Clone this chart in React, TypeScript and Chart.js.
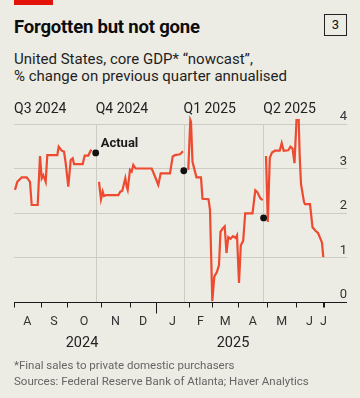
import React, { useEffect, useRef } from 'react';
import { Chart, registerables } from 'chart.js';

Chart.register(...registerables);

// x positions are in "timeline units" along the chart's date axis (Aug 1 2024 = 0)
const q3X = [1, 3.3, 7.7, 12.7, 16, 17.7, 23.7, 26, 27.7, 29.3, 31.7, 33.3, 43.3, 44.7, 47.7, 50, 51.7, 54.3, 56.7, 58.7, 60, 68.7, 70.7, 74.3, 76.7, 77.5];
const q3Y = [2.52, 2.7, 2.8, 2.8, 2.7, 2.18, 2.18, 3.28, 2.78, 2.85, 2.7, 3.3, 3.3, 3.49, 3.4, 3.38, 3.12, 2.59, 3.19, 3.23, 3.1, 3.1, 3.29, 3.29, 3.4, 3.42];

const q4X = [85, 87, 88.7, 90, 92, 104.3, 106.3, 108.3, 111.3, 112.7, 113.7, 116, 117.7, 119.3, 121.7, 137.7, 141, 144.3, 146.7, 156, 158.7, 161, 166, 169];
const q4Y = [2.7, 2.31, 2.48, 2.38, 2.4, 2.4, 2.48, 2.5, 2.78, 2.59, 2.52, 2.97, 2.93, 3.08, 3.0, 3.0, 2.82, 2.63, 2.89, 2.89, 3.27, 3.3, 3.32, 3.39];

const q1X = [174.3, 176.3, 177, 178.5, 181, 182.5, 187, 188.5, 194.5, 196, 198.3, 200.3, 203, 205, 206.5, 209, 210.7, 212.5, 214.3, 216.5, 219, 221.5, 223, 225, 226.8, 229.2, 231.2, 238.5, 241.3, 243.3, 246.3, 248.7];
const q1Y = [2.97, 4.09, 4.05, 3.15, 2.93, 2.8, 2.8, 2.32, 2.31, 2.07, 0.02, 0.57, 0.68, 0.83, 1.58, 1.66, 1.7, 1.1, 1.46, 1.42, 1.48, 1.44, 1.5, 0.43, 1.27, 1.38, 1.99, 1.99, 2.51, 2.47, 2.33, 2.29];

const q2X = [252, 253.8, 255.8, 258, 261, 265.7, 267.7, 269.7, 274.3, 276.5, 278.5, 280.5, 282.5, 284.7, 285.7, 287, 290, 291, 296, 298.5, 301.5, 304, 306.5, 308, 309.3];
const q2Y = [3.28, 1.8, 3.24, 3.36, 3.4, 3.4, 3.57, 3.4, 3.41, 3.49, 3.45, 3.12, 4.09, 4.09, 3.29, 2.65, 2.25, 2.2, 2.2, 1.68, 1.6, 1.55, 1.42, 1.33, 1.01];

const actualX = [81.7, 169.8, 249.6];
const actualY = [3.35, 2.95, 1.89];

const quarterLabels = ['Q3 2024', 'Q4 2024', 'Q1 2025', 'Q2 2025'];
const quarterPos = [0, 81.7, 169.5, 249.3];

const monthLabels = ['A', 'S', 'O', 'N', 'D', 'J', 'F', 'M', 'A', 'M', 'J', 'J'];
const monthTicks = [0, 26.7, 53.3, 86.7, 116, 142, 175, 198, 224.3, 253.3, 282, 308.7];
const lastDataTick = 310.3;
const yearBoundary = 142;
const yearLabels = ['2024', '2025'];
const yearLabelPos = [68, 219];

const yTicks = [0, 1, 2, 3, 4];
const X_MAX = 333;

const BG = '#ECEBE4';
const GRID = '#CDCCC4';
const RED = '#EE4A30';
const FONT = 'Roboto, "Liberation Sans", sans-serif';

function pts(xs: number[], ys: number[]) {
  return xs.map((x, i) => ({ x, y: ys[i] }));
}

const overlayPlugin = {
  id: 'overlay',
  beforeDatasetsDraw(chart: any) {
    const { ctx, chartArea, scales } = chart;
    const x = scales.x;
    const y = scales.y;
    ctx.save();
    ctx.strokeStyle = GRID;
    ctx.lineWidth = 1;
    quarterPos.forEach((q, i) => {
      if (i === 0) return;
      const px = Math.round(x.getPixelForValue(q)) + 0.5;
      ctx.beginPath();
      ctx.moveTo(px, y.getPixelForValue(4));
      ctx.lineTo(px, y.getPixelForValue(0));
      ctx.stroke();
    });
    // axis line
    const y0 = Math.round(y.getPixelForValue(0)) + 0.5;
    ctx.strokeStyle = '#1a1a1a';
    ctx.beginPath();
    ctx.moveTo(chartArea.left, y0);
    ctx.lineTo(chartArea.right, y0);
    ctx.stroke();
    // month ticks
    const allTicks = [...monthTicks, lastDataTick];
    allTicks.forEach((t) => {
      const px = Math.round(x.getPixelForValue(t)) + 0.5;
      const len = t === yearBoundary ? 11 : 5;
      ctx.beginPath();
      ctx.moveTo(px, y0);
      ctx.lineTo(px, y0 + len);
      ctx.stroke();
    });
    ctx.restore();
  },
  afterDraw(chart: any) {
    const { ctx, chartArea, scales } = chart;
    const x = scales.x;
    const y = scales.y;
    ctx.save();
    // y labels
    ctx.fillStyle = '#333';
    ctx.font = `13px ${FONT}`;
    ctx.textAlign = 'right';
    ctx.textBaseline = 'alphabetic';
    yTicks.forEach((v) => {
      ctx.fillText(String(v), chartArea.right, y.getPixelForValue(v) - 4);
    });
    // quarter labels
    ctx.textAlign = 'left';
    ctx.font = `14px ${FONT}`;
    ctx.fillStyle = '#222';
    quarterLabels.forEach((lab, i) => {
      ctx.fillText(lab, x.getPixelForValue(quarterPos[i]), y.getPixelForValue(4) - 11);
    });
    // month labels
    ctx.textAlign = 'center';
    ctx.font = `12.5px ${FONT}`;
    ctx.fillStyle = '#333';
    const y0 = y.getPixelForValue(0);
    monthLabels.forEach((lab, i) => {
      const pos = i < monthTicks.length - 1 ? (monthTicks[i] + monthTicks[i + 1]) / 2 : monthTicks[i] + 0.7;
      ctx.fillText(lab, x.getPixelForValue(pos), y0 + 23);
    });
    // year labels
    ctx.font = `14.5px ${FONT}`;
    ctx.fillStyle = '#222';
    yearLabels.forEach((lab, i) => {
      ctx.fillText(lab, x.getPixelForValue(yearLabelPos[i]), y0 + 45);
    });
    // "Actual" annotation
    ctx.textAlign = 'left';
    ctx.font = `bold 13px ${FONT}`;
    ctx.fillStyle = '#1a1a1a';
    ctx.fillText('Actual', x.getPixelForValue(actualX[0]) + 5, y.getPixelForValue(actualY[0]) - 6);
    ctx.restore();
  },
};

export default function App() {
  const ref = useRef<HTMLCanvasElement | null>(null);
  useEffect(() => {
    if (!ref.current) return;
    const lineDs = (xs: number[], ys: number[]) => ({
      type: 'line' as const,
      data: pts(xs, ys),
      borderColor: RED,
      borderWidth: 2.2,
      pointRadius: 0,
      tension: 0,
      clip: false as any,
      order: 2,
    });
    const chart = new Chart(ref.current, {
      type: 'line',
      data: {
        datasets: [
          lineDs(q3X, q3Y),
          lineDs(q4X, q4Y),
          lineDs(q1X, q1Y),
          lineDs(q2X, q2Y),
          {
            type: 'scatter' as const,
            data: pts(actualX, actualY),
            backgroundColor: '#111',
            borderColor: '#111',
            pointRadius: 3.4,
            borderWidth: 0,
            clip: false as any,
            order: 1,
          } as any,
        ],
      },
      options: {
        animation: false,
        responsive: false,
        devicePixelRatio: 1,
        layout: { padding: { left: 14, right: 13, top: 124, bottom: 96 } },
        plugins: { legend: { display: false }, tooltip: { enabled: false } },
        scales: {
          x: { type: 'linear', min: 0, max: X_MAX, display: false },
          y: {
            type: 'linear',
            min: 0,
            max: 4,
            position: 'right',
            border: { display: false },
            ticks: { display: false, stepSize: 1 },
            grid: {
              drawTicks: false,
              color: (c: any) => (c.tick && c.tick.value === 0 ? 'rgba(0,0,0,0)' : GRID),
              lineWidth: 1,
            },
          },
        },
      },
      plugins: [overlayPlugin],
    } as any);
    return () => chart.destroy();
  }, []);

  const abs = (s: React.CSSProperties): React.CSSProperties => ({ position: 'absolute', margin: 0, whiteSpace: 'nowrap', ...s });

  return (
    <div style={{ position: 'fixed', left: 0, top: 0, width: 360, height: 398, background: BG, overflow: 'hidden', fontFamily: FONT }}>
      <div style={abs({ left: 14, top: 0, width: 39, height: 5, background: '#E3120B' })} />
      <div style={abs({ left: 14, top: 18, fontSize: 18.5, lineHeight: '19px', fontWeight: 700, color: '#0d0d0d', letterSpacing: -0.2 })}>
        Forgotten but not gone
      </div>
      <div style={abs({ left: 324, top: 14, width: 21, height: 20, border: '1px solid #222', fontSize: 13, lineHeight: '20px', textAlign: 'center', color: '#111' })}>
        3
      </div>
      <div style={abs({ left: 14, top: 51, fontSize: 15, lineHeight: '17px', color: '#1f1f1f' })}>
        United States, core GDP* “nowcast”,
        <br />% change on previous quarter annualised
      </div>
      <canvas ref={ref} width={360} height={398} style={{ position: 'absolute', left: 0, top: 0, width: 360, height: 398 }} />
      <div style={abs({ left: 14, top: 358, fontSize: 11.5, lineHeight: '15.5px', color: '#666' })}>
        *Final sales to private domestic purchasers
        <br />
        Sources: Federal Reserve Bank of Atlanta; Haver Analytics
      </div>
    </div>
  );
}
